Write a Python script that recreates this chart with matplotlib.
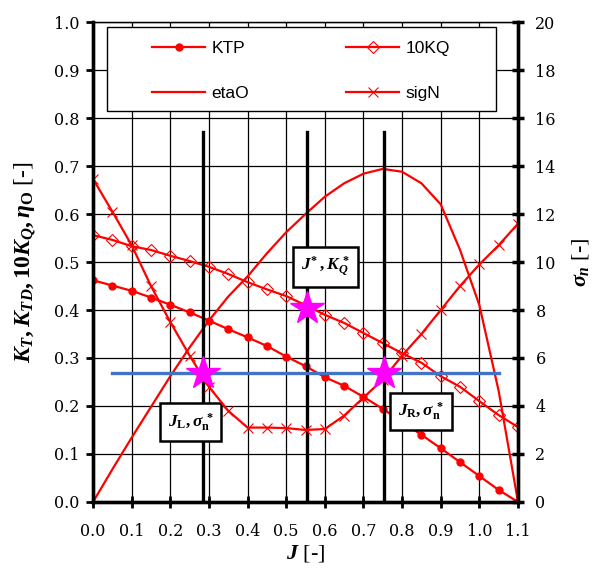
import matplotlib
matplotlib.use("Agg")
import matplotlib.pyplot as plt
from matplotlib.patches import Rectangle

plt.rcParams["font.family"] = ["Liberation Serif", "DejaVu Serif"]
plt.rcParams["mathtext.fontset"] = "custom"
plt.rcParams["mathtext.it"] = "Liberation Serif:italic:bold"
plt.rcParams["mathtext.rm"] = "Liberation Serif:bold"
plt.rcParams["mathtext.bf"] = "Liberation Serif:bold"

# advance ratio
J = [0.0, 0.05, 0.1, 0.15, 0.2, 0.25, 0.3, 0.35, 0.4, 0.45, 0.5, 0.55,
     0.6, 0.65, 0.7, 0.75, 0.8, 0.85, 0.9, 0.95, 1.0, 1.05, 1.1]
ktp = [0.462, 0.451, 0.44, 0.426, 0.411, 0.395, 0.378, 0.36, 0.343, 0.325, 0.303, 0.283,
       0.260, 0.242, 0.219, 0.194, 0.167, 0.140, 0.112, 0.083, 0.054, 0.025, 0.0]
kq10 = [0.556, 0.546, 0.533, 0.525, 0.513, 0.502, 0.49, 0.475, 0.458, 0.443, 0.429, 0.41,
        0.39, 0.373, 0.352, 0.331, 0.31, 0.29, 0.262, 0.24, 0.21, 0.181, 0.156]
eta = [0.0, 0.068, 0.134, 0.198, 0.262, 0.322, 0.378, 0.428, 0.470, 0.518, 0.562, 0.600,
       0.636, 0.664, 0.684, 0.694, 0.688, 0.664, 0.620, 0.525, 0.410, 0.231, 0.0]
sign = [13.46, 12.1, 10.7, 9.0, 7.5, 6.1, 4.8, 3.8, 3.1, 3.1, 3.08, 3.0,
        3.04, 3.6, 4.35, 5.1, 6.1, 7.0, 8.0, 9.0, 9.9, 10.7, 11.6]

# operating points
j_left, j_star, j_right = 0.285, 0.555, 0.752
kq_star = 0.405
sig_star = 5.36
line_top = 0.77
band_j = [0.05, 1.05]

red = "#FF0000"
tick_font = {"family": "DejaVu Serif", "size": 11.5}

fig = plt.figure(figsize=(5.99, 5.72), dpi=100)
ax = fig.add_axes([0.1553, 0.1224, 0.7095, 0.8391])
ax2 = ax.twinx()

ax.set_xlim(0, 1.1)
ax.set_ylim(0, 1.0)
ax2.set_ylim(0, 20)
ax.set_xticks([i / 10 for i in range(12)])
ax.set_yticks([i / 10 for i in range(11)])
ax2.set_yticks(range(0, 21, 2))
ax.set_xticklabels([f"{i / 10:.1f}" for i in range(12)], fontdict=tick_font)
ax.set_yticklabels([f"{i / 10:.1f}" for i in range(11)], fontdict=tick_font)
ax2.set_yticklabels([str(v) for v in range(0, 21, 2)], fontdict=tick_font)
ax.grid(True, color="black", lw=0.9)
ax.set_axisbelow(True)

ax.tick_params(axis="y", direction="out", length=5, width=2, pad=5)
ax.tick_params(axis="x", direction="inout", length=8, width=2, pad=11)
ax2.tick_params(axis="y", direction="inout", length=9, width=2.5, pad=8)
for a in (ax, ax2):
    a.spines["left"].set_linewidth(2.4)
    a.spines["right"].set_linewidth(2.4)
    a.spines["bottom"].set_linewidth(2.4)
    a.spines["top"].set_linewidth(0.9)

l_ktp, = ax.plot(J, ktp, color=red, lw=1.6, marker="o", ms=5, label="KTP")
l_kq, = ax.plot(J, kq10, color=red, lw=1.6, marker="D", ms=6.5, mfc="none",
                mew=0.8, label="10KQ")
l_eta, = ax.plot(J, eta, color=red, lw=1.6, label="etaO")
l_sig, = ax2.plot(J, sign, color=red, lw=1.6, marker="x", ms=7, mew=0.8, label="sigN")

for jv in (j_left, j_star, j_right):
    ax.plot([jv, jv], [0, line_top], color="black", lw=2.4, zorder=3)

ax2.plot(band_j, [sig_star, sig_star], color="#4472C4", lw=2.4, zorder=4)
ax2.plot([j_left, j_right], [sig_star, sig_star], ls="none", marker="*",
         ms=25, color="#FF00FF", zorder=5)
ax.plot([j_star], [kq_star], ls="none", marker="*", ms=25, color="#FF00FF", zorder=5)

box = dict(boxstyle="square,pad=0.45", fc="white", ec="black", lw=1.8)
ax.text(0.601, 0.49, r"$J^{*}\,,K_Q^{\,*}$", fontsize=12.5, ha="center", va="center",
        bbox=box, zorder=6)
ax.text(0.2526, 0.167, r"$J_{\rm L},\sigma_{\rm n}^{\,*}$", fontsize=12.5, ha="center",
        va="center", bbox=box, zorder=6)
ax.text(0.85, 0.189, r"$J_{\rm R},\sigma_{\rm n}^{\,*}$", fontsize=12.5, ha="center",
        va="center", bbox=box, zorder=6)

ax.set_ylabel(r"$K_T, K_{TD}, \mathit{10}K_Q, \eta_{\rm O}$ [-]", fontsize=17, labelpad=11)
ax2.set_ylabel(r"$\sigma_n$ [-]", fontsize=16, labelpad=10)
ax.set_xlabel(r"$J$ [-]", fontsize=16, labelpad=2)

# legend: framed box across the top, entries placed inside it
ax2.add_patch(Rectangle((0.033, 0.815), 0.915, 0.175, transform=ax2.transAxes,
                        fc="white", ec="black", lw=1.0, zorder=9))
leg = ax2.legend(handles=[l_ktp, l_eta, l_kq, l_sig], ncol=2, loc="upper left",
                 bbox_to_anchor=(0.139, 0.96), frameon=False,
                 handlelength=3.05, handletextpad=0.36, columnspacing=5.6,
                 labelspacing=1.7, borderpad=0, borderaxespad=0,
                 prop={"family": "Liberation Sans", "size": 12.5})
leg.set_zorder(10)

fig.savefig("out.png", dpi=100)
